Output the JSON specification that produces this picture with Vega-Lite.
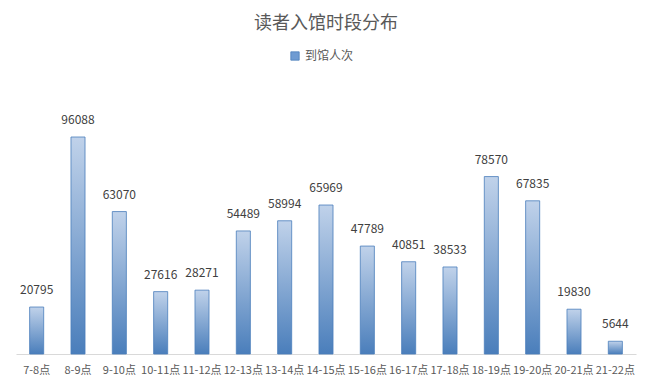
{
  "$schema": "https://vega.github.io/schema/vega-lite/v6.json",
  "width": 620,
  "height": 271,
  "autosize": "none",
  "padding": {"left": 16, "top": 83, "right": 15, "bottom": 35},
  "background": "white",
  "title": {
    "text": "读者入馆时段分布",
    "font": "Noto Sans CJK SC",
    "fontSize": 18,
    "fontWeight": "normal",
    "color": "#595959",
    "anchor": "middle",
    "offset": 17
  },
  "data": {
    "values": [
      {"时段": "7-8点", "到馆人次": 20795},
      {"时段": "8-9点", "到馆人次": 96088},
      {"时段": "9-10点", "到馆人次": 63070},
      {"时段": "10-11点", "到馆人次": 27616},
      {"时段": "11-12点", "到馆人次": 28271},
      {"时段": "12-13点", "到馆人次": 54489},
      {"时段": "13-14点", "到馆人次": 58994},
      {"时段": "14-15点", "到馆人次": 65969},
      {"时段": "15-16点", "到馆人次": 47789},
      {"时段": "16-17点", "到馆人次": 40851},
      {"时段": "17-18点", "到馆人次": 38533},
      {"时段": "18-19点", "到馆人次": 78570},
      {"时段": "19-20点", "到馆人次": 67835},
      {"时段": "20-21点", "到馆人次": 19830},
      {"时段": "21-22点", "到馆人次": 5644}
    ]
  },
  "encoding": {
    "x": {
      "field": "时段",
      "type": "nominal",
      "sort": null,
      "scale": {"paddingInner": 0.66, "paddingOuter": 0.33},
      "axis": {
        "title": null,
        "labelAngle": 0,
        "labelFont": "Noto Sans CJK SC",
        "labelFontSize": 11,
        "labelColor": "#595959",
        "labelPadding": 10,
        "labelOverlap": false,
        "ticks": false,
        "domainColor": "#d9d9d9",
        "domainWidth": 1
      }
    },
    "y": {
      "field": "到馆人次",
      "type": "quantitative",
      "scale": {"domain": [0, 120000], "nice": false},
      "axis": null
    }
  },
  "layer": [
    {
      "mark": {
        "type": "bar",
        "stroke": "#4a7ebb",
        "strokeWidth": 0.8,
        "fill": {
          "gradient": "linear",
          "x1": 0, "y1": 0, "x2": 0, "y2": 1,
          "stops": [
            {"offset": 0, "color": "#c0d2ea"},
            {"offset": 1, "color": "#4a7ebb"}
          ]
        }
      }
    },
    {
      "mark": {"type": "square", "size": 0, "filled": true},
      "encoding": {
        "color": {
          "datum": "到馆人次",
          "type": "nominal",
          "scale": {"range": ["#6f9bd2"]},
          "legend": {
            "title": null,
            "orient": "none",
            "legendX": 273,
            "legendY": -33,
            "symbolType": "square",
            "symbolSize": 70,
            "symbolOpacity": 1,
            "symbolStrokeColor": "#4a7ebb",
            "symbolStrokeWidth": 0.8,
            "labelFont": "Noto Sans CJK SC",
            "labelFontSize": 12,
            "labelColor": "#595959",
            "labelOffset": 4
          }
        }
      }
    },
    {
      "mark": {
        "type": "text",
        "baseline": "bottom",
        "dy": -10,
        "font": "Noto Sans CJK SC",
        "fontSize": 12,
        "color": "#404040"
      },
      "encoding": {
        "text": {"field": "到馆人次", "type": "quantitative", "format": "d"}
      }
    }
  ],
  "config": {
    "view": {"stroke": null}
  }
}
